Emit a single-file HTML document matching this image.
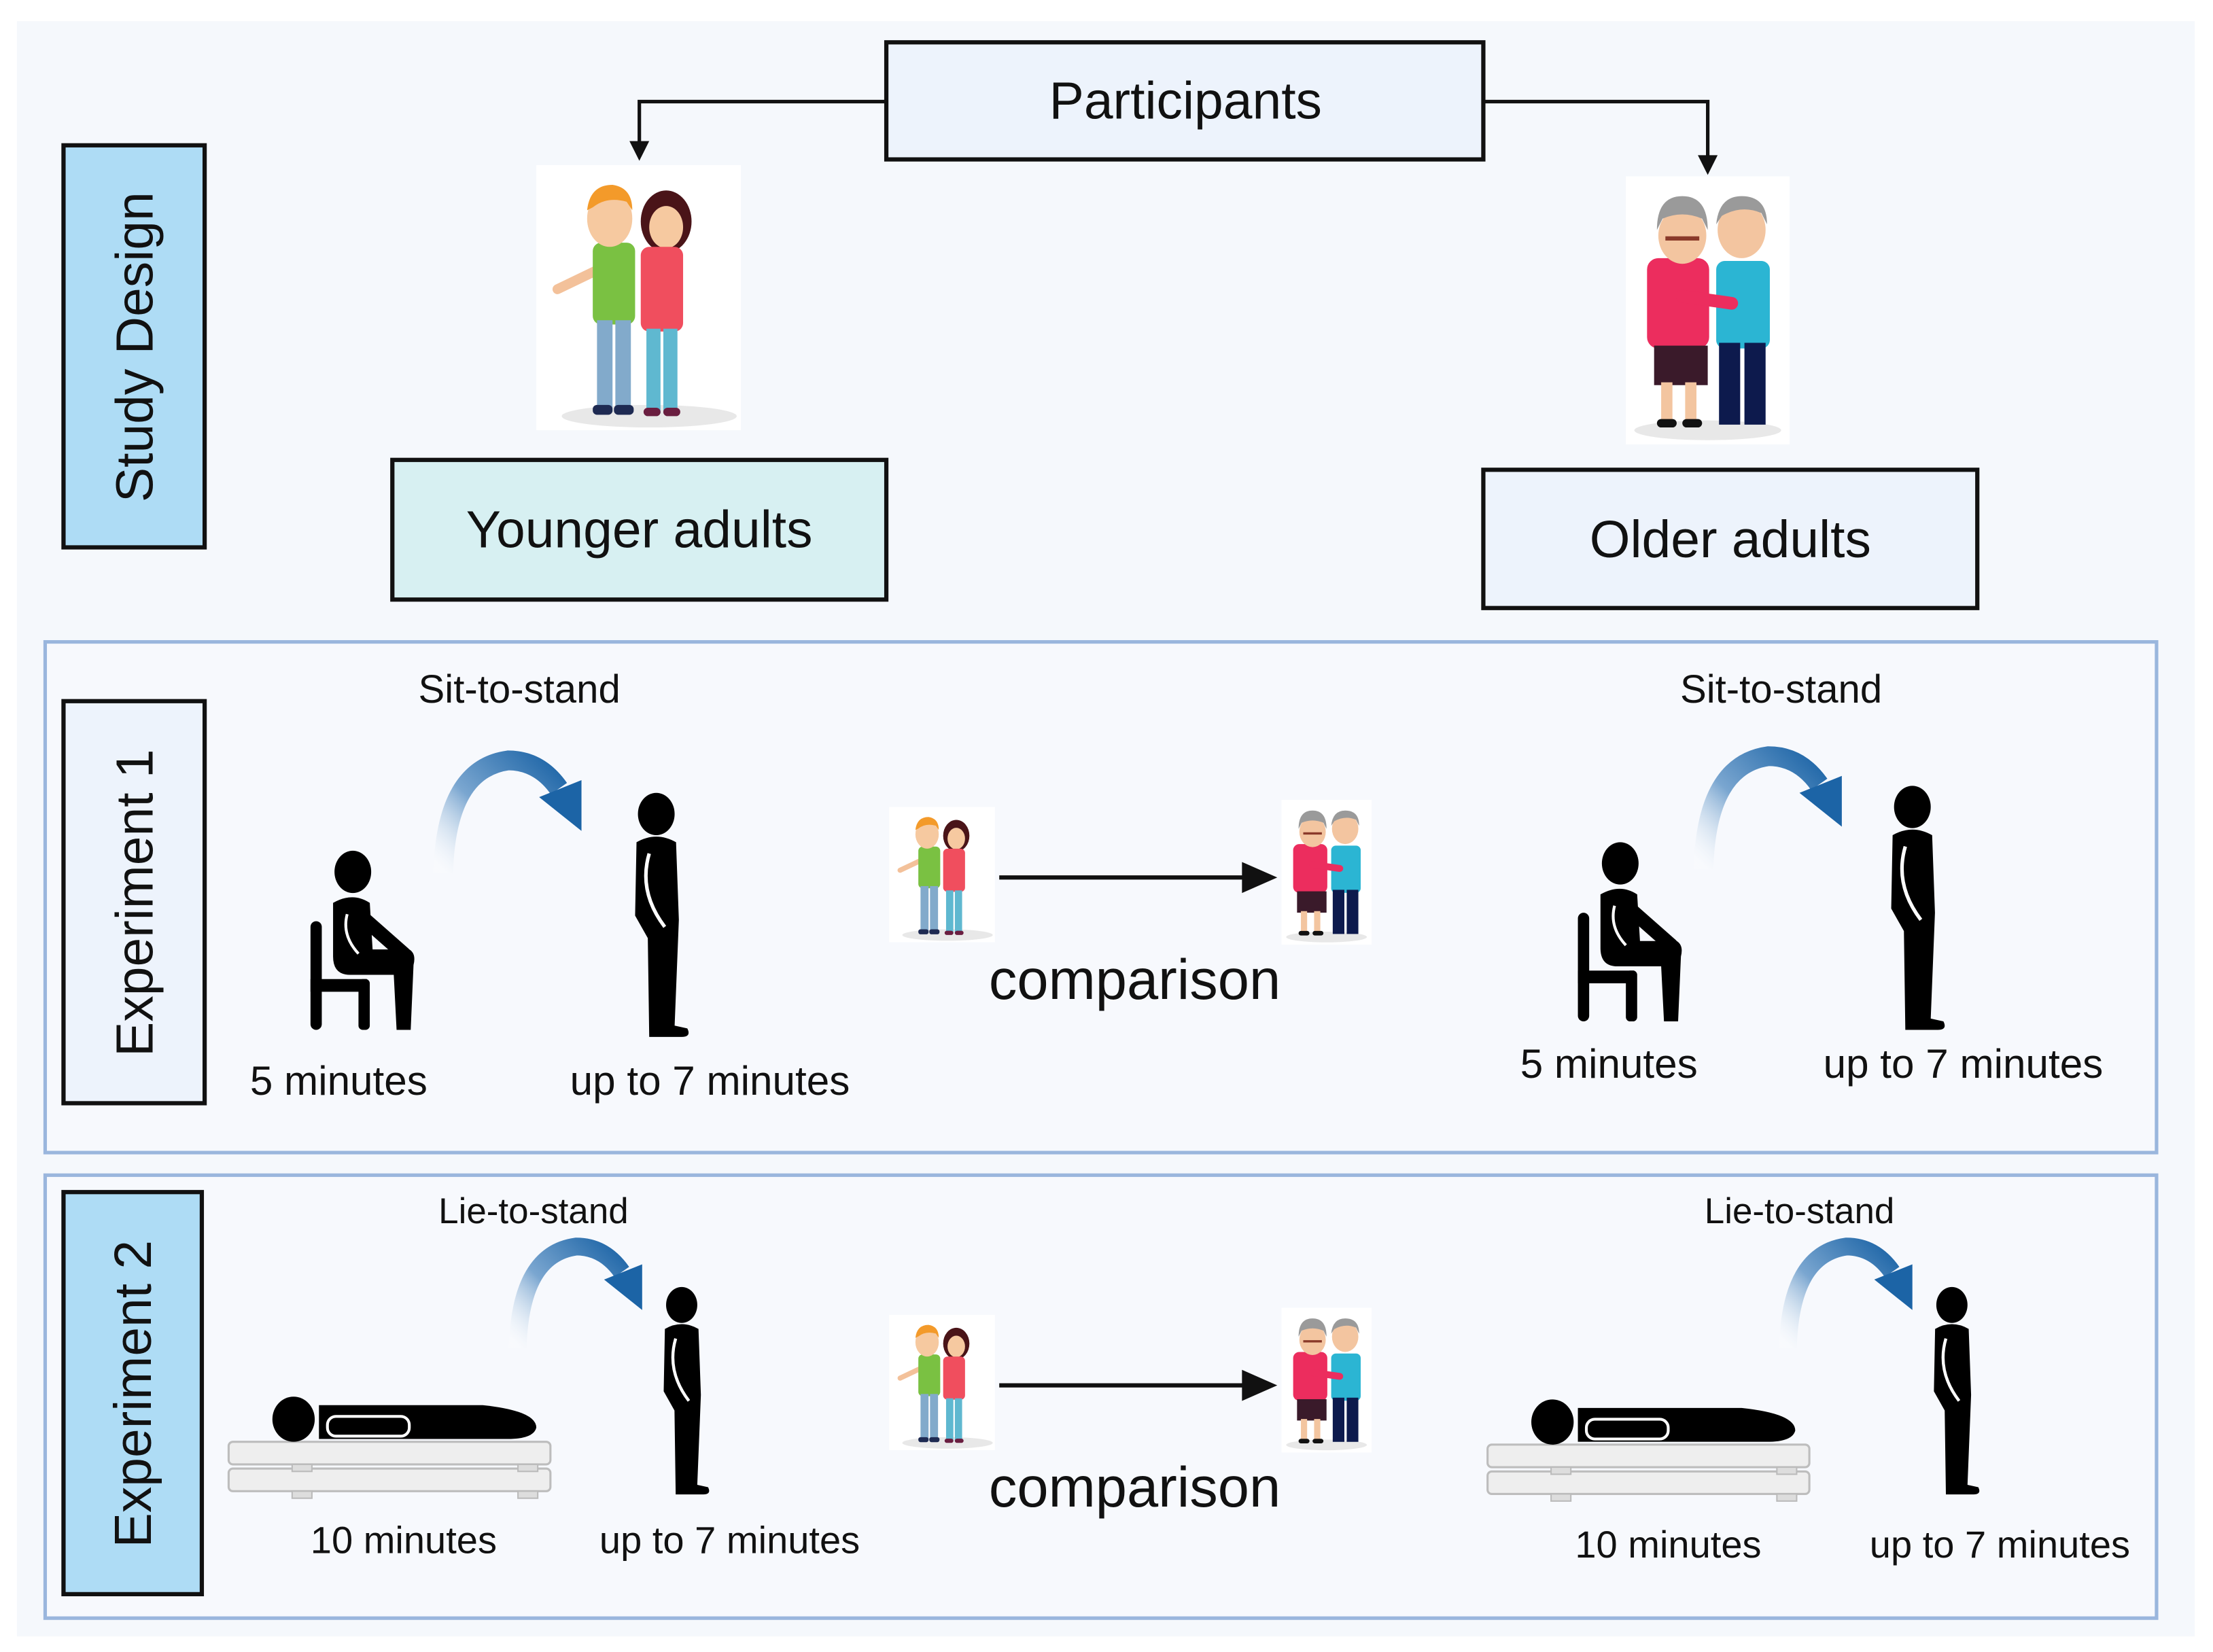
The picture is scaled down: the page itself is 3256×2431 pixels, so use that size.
<!DOCTYPE html>
<html><head><meta charset="utf-8"><style>
html,body{margin:0;padding:0;background:#fff;}
svg{display:block;}
text{font-family:"Liberation Sans",Arial,sans-serif;fill:#111;}
</style></head><body>
<svg width="3256" height="2431" viewBox="0 0 1568 1171" preserveAspectRatio="none" xmlns="http://www.w3.org/2000/svg">
<defs>
<linearGradient id="bg" x1="0" y1="1" x2="1" y2="0">
<stop offset="0" stop-color="#ffffff" stop-opacity="0.2"/>
<stop offset="0.45" stop-color="#7aa6d0"/>
<stop offset="1" stop-color="#1c64a6"/>
</linearGradient>
<g id="stand">
<ellipse cx="0" cy="0" rx="13" ry="15" fill="#000"/>
<path d="M-14,20 Q0,12 14,20 L16,75 L13,150 L22,152 Q25,158 18,158 L-5,158 L-6,88 L-15,72 Z" fill="#000"/>
<path d="M-5,28 Q-13,55 6,80" stroke="#fff" stroke-width="2.5" fill="none"/>
</g>
<g id="sit">
<ellipse cx="0" cy="0" rx="13" ry="15" fill="#000"/>
<path d="M-14,22 Q0,14 12,22 L14,55 L40,55 Q45,58 43,66 L41,112 L31,112 L29,73 L-2,73 Q-14,73 -14,60 Z" fill="#000"/>
<path d="M2,28 L36,58" stroke="#000" stroke-width="10" stroke-linecap="round"/>
<path d="M-4,30 Q-8,45 4,58" stroke="#fff" stroke-width="2" fill="none"/>
<rect x="-30" y="35" width="8" height="77" rx="4" fill="#000"/>
<rect x="-30" y="76" width="40" height="9" fill="#000"/>
<rect x="4" y="76" width="8" height="36" rx="3" fill="#000"/>
</g>
<g id="lie">
<rect x="0" y="18" width="228" height="16" rx="3" fill="#eeeeee" stroke="#bdbdbd" stroke-width="1.5"/>
<rect x="0" y="37" width="228" height="16" rx="3" fill="#eeeeee" stroke="#bdbdbd" stroke-width="1.5"/>
<rect x="45" y="34" width="14" height="5" fill="#ddd" stroke="#bbb"/>
<rect x="205" y="34" width="14" height="5" fill="#ddd" stroke="#bbb"/>
<rect x="45" y="53" width="14" height="5" fill="#ddd" stroke="#bbb"/>
<rect x="205" y="53" width="14" height="5" fill="#ddd" stroke="#bbb"/>
<ellipse cx="46" cy="2" rx="15" ry="16" fill="#000"/>
<path d="M64,-8 L180,-8 Q218,-4 218,8 Q216,16 198,16 L64,16 Z" fill="#000"/>
<rect x="70" y="0" width="58" height="14" rx="6" fill="#000" stroke="#fff" stroke-width="2"/>
</g>
<g id="barrow">
<path d="M-98,34 Q-96,-40 -52,-46 Q-30,-46 -16,-26" stroke="url(#bg)" stroke-width="14" fill="none"/>
<polygon points="-30,-20 0,-32 0,4" fill="#1c64a6"/>
</g>
<g id="young">
<rect x="0" y="0" width="145" height="188" fill="#fff"/>
<ellipse cx="80" cy="178" rx="62" ry="8" fill="#e8e8e8"/>
<path d="M42,75 L15,88" stroke="#f3c19a" stroke-width="7" stroke-linecap="round"/>
<rect x="40" y="55" width="30" height="58" rx="6" fill="#7ac142"/>
<rect x="43" y="110" width="11" height="65" fill="#82aacb"/>
<rect x="56" y="110" width="11" height="65" fill="#82aacb"/>
<rect x="40" y="170" width="14" height="7" rx="3" fill="#1e2a52"/>
<rect x="55" y="170" width="14" height="7" rx="3" fill="#1e2a52"/>
<ellipse cx="52" cy="38" rx="16" ry="20" fill="#f6c9a0"/>
<path d="M36,32 Q38,14 54,14 Q68,16 68,32 L64,26 Q50,22 40,30 Z" fill="#f39a2a"/>
<ellipse cx="92" cy="40" rx="18" ry="22" fill="#4a1418"/>
<ellipse cx="92" cy="44" rx="12" ry="15" fill="#f6c9a0"/>
<rect x="74" y="58" width="30" height="60" rx="6" fill="#f04e5e"/>
<rect x="78" y="116" width="10" height="60" fill="#5fb8d0"/>
<rect x="90" y="116" width="10" height="60" fill="#5fb8d0"/>
<rect x="76" y="172" width="12" height="6" rx="3" fill="#6a1e40"/>
<rect x="90" y="172" width="12" height="6" rx="3" fill="#6a1e40"/>
</g>
<g id="old">
<rect x="0" y="0" width="116" height="190" fill="#fff"/>
<ellipse cx="58" cy="180" rx="52" ry="7" fill="#e8e8e8"/>
<rect x="64" y="60" width="38" height="62" rx="6" fill="#2bb5d3"/>
<rect x="66" y="118" width="15" height="58" fill="#0d1a4d"/>
<rect x="84" y="118" width="15" height="58" fill="#0d1a4d"/>
<ellipse cx="82" cy="38" rx="17" ry="20" fill="#f3c5a0"/>
<path d="M64,34 Q66,14 82,14 Q100,14 100,34 L96,26 Q82,20 68,28 Z" fill="#9a9a9a"/>
<rect x="15" y="58" width="44" height="64" rx="8" fill="#ec2d5e"/>
<path d="M40,85 L75,90" stroke="#ec2d5e" stroke-width="9" stroke-linecap="round"/>
<rect x="20" y="120" width="38" height="28" fill="#3a1a2a"/>
<rect x="25" y="146" width="8" height="28" fill="#f3c5a0"/>
<rect x="42" y="146" width="8" height="28" fill="#f3c5a0"/>
<rect x="22" y="172" width="14" height="6" rx="3" fill="#111"/>
<rect x="40" y="172" width="14" height="6" rx="3" fill="#111"/>
<ellipse cx="40" cy="42" rx="17" ry="20" fill="#f3c5a0"/>
<path d="M22,38 Q22,14 40,14 Q58,14 58,38 L54,30 Q40,24 26,30 Z" fill="#9a9a9a"/>
<path d="M28,44 L52,44" stroke="#8a3a2a" stroke-width="3"/>
</g>
</defs>

<rect x="0" y="0" width="1568" height="1171" fill="#fff"/>
<rect x="12" y="15" width="1543" height="1145" fill="#f5f8fc"/>

<rect x="45" y="103" width="100" height="285" fill="#aedcf5" stroke="#111" stroke-width="3"/>
<text transform="translate(108,246) rotate(-90)" text-anchor="middle" font-size="37">Study Design</text>

<rect x="628" y="30" width="423" height="83" fill="#edf3fc" stroke="#111" stroke-width="3"/>
<text x="840" y="84" text-anchor="middle" font-size="37">Participants</text>
<path d="M628,72 L453,72 L453,102" stroke="#111" stroke-width="2.5" fill="none"/>
<polygon points="446,100 460,100 453,114" fill="#111"/>
<path d="M1051,72 L1210,72 L1210,112" stroke="#111" stroke-width="2.5" fill="none"/>
<polygon points="1203,110 1217,110 1210,124" fill="#111"/>

<use href="#young" transform="translate(380,117)"/>
<use href="#old" transform="translate(1152,125)"/>

<rect x="278" y="326" width="350" height="99" fill="#d7f0f2" stroke="#111" stroke-width="3"/>
<text x="453" y="388" text-anchor="middle" font-size="37">Younger adults</text>
<rect x="1051" y="333" width="350" height="98" fill="#edf3fc" stroke="#111" stroke-width="3"/>
<text x="1226" y="395" text-anchor="middle" font-size="37">Older adults</text>

<rect x="32" y="455" width="1496" height="362" fill="#f7f9fd" stroke="#9ab6dd" stroke-width="2.5"/>
<rect x="45" y="497" width="100" height="285" fill="#edf3fc" stroke="#111" stroke-width="3"/>
<text transform="translate(108,640) rotate(-90)" text-anchor="middle" font-size="37">Experiment 1</text>

<text x="368" y="498" text-anchor="middle" font-size="28">Sit-to-stand</text>
<use href="#barrow" transform="translate(412,585)"/>
<use href="#sit" transform="translate(250,618)"/>
<use href="#stand" transform="translate(465,577)"/>
<text x="240" y="776" text-anchor="middle" font-size="29">5 minutes</text>
<text x="503" y="776" text-anchor="middle" font-size="29">up to 7 minutes</text>

<use href="#young" transform="translate(630,572) scale(0.517,0.51)"/>
<use href="#old" transform="translate(908,567) scale(0.55,0.54)"/>
<line x1="708" y1="622" x2="885" y2="622" stroke="#111" stroke-width="3"/>
<polygon points="880,611 905,622 880,633" fill="#111"/>
<text x="804" y="708" text-anchor="middle" font-size="40">comparison</text>

<text x="1262" y="498" text-anchor="middle" font-size="28">Sit-to-stand</text>
<use href="#barrow" transform="translate(1305,582)"/>
<use href="#sit" transform="translate(1148,612)"/>
<use href="#stand" transform="translate(1355,572)"/>
<text x="1140" y="764" text-anchor="middle" font-size="29">5 minutes</text>
<text x="1391" y="764" text-anchor="middle" font-size="29">up to 7 minutes</text>

<rect x="32" y="833" width="1496" height="314" fill="#f7f9fd" stroke="#9ab6dd" stroke-width="2.5"/>
<rect x="45" y="845" width="98" height="285" fill="#aedcf5" stroke="#111" stroke-width="3"/>
<text transform="translate(107,988) rotate(-90)" text-anchor="middle" font-size="37">Experiment 2</text>

<text x="378" y="867" text-anchor="middle" font-size="25.5">Lie-to-stand</text>
<use href="#barrow" transform="translate(455,925) scale(0.9)"/>
<use href="#lie" transform="translate(162,1004)"/>
<use href="#stand" transform="translate(483,925) scale(0.85)"/>
<text x="286" y="1101" text-anchor="middle" font-size="27">10 minutes</text>
<text x="517" y="1101" text-anchor="middle" font-size="27">up to 7 minutes</text>

<use href="#young" transform="translate(630,932) scale(0.517,0.51)"/>
<use href="#old" transform="translate(908,927) scale(0.55,0.54)"/>
<line x1="708" y1="982" x2="885" y2="982" stroke="#111" stroke-width="3"/>
<polygon points="880,971 905,982 880,993" fill="#111"/>
<text x="804" y="1068" text-anchor="middle" font-size="40">comparison</text>

<text x="1275" y="867" text-anchor="middle" font-size="25.5">Lie-to-stand</text>
<use href="#barrow" transform="translate(1355,925) scale(0.9)"/>
<use href="#lie" transform="translate(1054,1006)"/>
<use href="#stand" transform="translate(1383,925) scale(0.85)"/>
<text x="1182" y="1104" text-anchor="middle" font-size="27">10 minutes</text>
<text x="1417" y="1104" text-anchor="middle" font-size="27">up to 7 minutes</text>
</svg>
</body></html>
